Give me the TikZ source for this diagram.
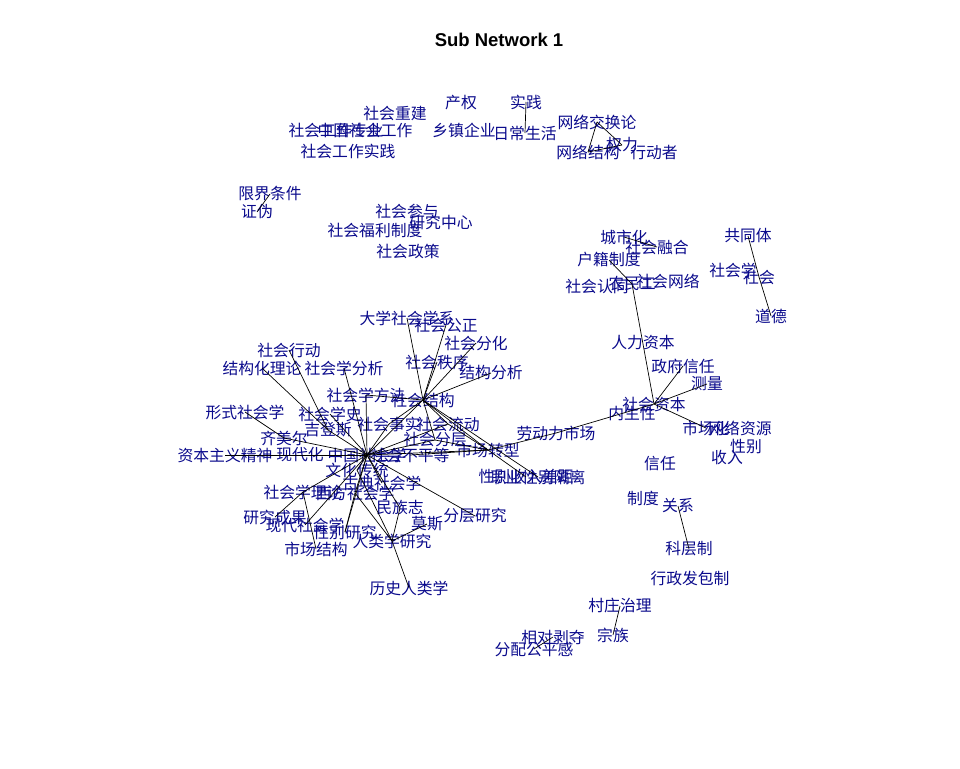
\documentclass[tikz,border=0pt]{standalone}
\usepackage{fontspec}
\newfontfamily\cjk{Noto Sans CJK SC}
\newfontfamily\titlefont{Liberation Sans}
\definecolor{labblue}{RGB}{10,10,140}
\begin{document}
\begin{tikzpicture}[x=1pt,y=-1pt,
  lab/.style={font=\cjk\fontsize{15.8}{16}\selectfont, text=labblue, inner sep=0pt},
  ln/.style={draw=black, line width=0.7pt}]
\fill[white] (0,0) rectangle (960,768);
\useasboundingbox (0,0) rectangle (960,768);
\node[font=\titlefont\bfseries\fontsize{18.5}{20}\selectfont] (title) at (499,40) {Sub Network 1};
% top group
\node[lab] (t1) at (395,113) {社会重建};
\node[lab] (t2) at (461,103) {产权};
\node[lab] (t3) at (526,102) {实践};
\node[lab] (t4) at (336,130) {社会工作专业};
\node[lab] (t5) at (365,130) {中国社会工作};
\node[lab] (t6) at (348,151) {社会工作实践};
\node[lab] (t7) at (464,130) {乡镇企业};
\node[lab] (t8) at (525,133) {日常生活};
\node[lab] (t9) at (597,122) {网络交换论};
\node[lab] (t10) at (622,145) {权力};
\node[lab] (t11) at (588,152) {网络结构};
\node[lab] (t12) at (654,153) {行动者};
\node[lab] (g1) at (270,194) {限界条件};
\node[lab] (g2) at (257,212) {证伪};
\node[lab] (g3) at (407,211) {社会参与};
\node[lab] (g4) at (441,222) {研究中心};
\node[lab] (g5) at (375,230) {社会福利制度};
\node[lab] (g6) at (408,251) {社会政策};
% right group
\node[lab] (r1) at (624,237) {城市化};
\node[lab] (r2) at (657,247) {社会融合};
\node[lab] (r3) at (609,260) {户籍制度};
\node[lab] (r4) at (597,286) {社会认同};
\node[lab] (r5) at (632,284) {农民工};
\node[lab] (r6) at (668,281) {社会网络};
\node[lab] (r7) at (748,236) {共同体};
\node[lab] (r8) at (733,270) {社会学};
\node[lab] (r9) at (759,277) {社会};
\node[lab] (r10) at (771,316) {道德};
\node[lab] (m1) at (643,343) {人力资本};
\node[lab] (m2) at (683,366) {政府信任};
\node[lab] (m3) at (707,384) {测量};
\node[lab] (m4) at (654,404) {社会资本};
\node[lab] (m5) at (632,414) {内生性};
\node[lab] (m6) at (706,428) {市场化};
\node[lab] (m7) at (740,428) {网络资源};
\node[lab] (m8) at (746,447) {性别};
\node[lab] (m9) at (727,457) {收入};
\node[lab] (m10) at (660,464) {信任};
\node[lab] (m11) at (643,498) {制度};
\node[lab] (m12) at (678,506) {关系};
\node[lab] (m13) at (689,549) {科层制};
\node[lab] (m14) at (690,578) {行政发包制};
\node[lab] (m15) at (620,606) {村庄治理};
\node[lab] (m16) at (613,635) {宗族};
\node[lab] (m17) at (553,637) {相对剥夺};
\node[lab] (m18) at (534,649) {分配公平感};
% core
\node[lab] (c0) at (367,455) {中国社会学};
\node[lab] (c1) at (407,318) {大学社会学系};
\node[lab] (c2) at (446,325) {社会公正};
\node[lab] (c3) at (476,343) {社会分化};
\node[lab] (c4) at (437,362) {社会秩序};
\node[lab] (c5) at (491,373) {结构分析};
\node[lab] (c6) at (289,350) {社会行动};
\node[lab] (c7) at (262,368) {结构化理论};
\node[lab] (c8) at (344,368) {社会学分析};
\node[lab] (c9) at (366,395) {社会学方法};
\node[lab] (c10) at (423,400) {社会结构};
\node[lab] (c11) at (245,412) {形式社会学};
\node[lab] (c12) at (330,414) {社会学史};
\node[lab] (c13) at (328,430) {吉登斯};
\node[lab] (c14) at (389,424) {社会事实};
\node[lab] (c15) at (448,424) {社会流动};
\node[lab] (c16) at (284,438) {齐美尔};
\node[lab] (c17) at (435,440) {社会分层};
\node[lab] (c18) at (225,455) {资本主义精神};
\node[lab] (c19) at (300,455) {现代化};
\node[lab] (c20) at (410,455) {社会不平等};
\node[lab] (c21) at (488,450) {市场转型};
\node[lab] (c22) at (556,433) {劳动力市场};
\node[lab] (c23) at (357,470) {文化传统};
\node[lab] (c24) at (382,483) {古典社会学};
\node[lab] (c25) at (303,492) {社会学理论};
\node[lab] (c26) at (355,493) {西方社会学};
\node[lab] (c27) at (275,517) {研究成果};
\node[lab] (c28) at (305,525) {现代社会学};
\node[lab] (c29) at (345,532) {性别研究};
\node[lab] (c30) at (400,508) {民族志};
\node[lab] (c31) at (427,524) {莫斯};
\node[lab] (c32) at (475,516) {分层研究};
\node[lab] (c33) at (392,541) {人类学研究};
\node[lab] (c34) at (316,549) {市场结构};
\node[lab] (c35) at (409,588) {历史人类学};
\node[lab] (c36) at (526,477) {性别收入差距};
\node[lab] (c37) at (538,477) {职业性别隔离};
% edges
\foreach \a/\b in {t3/t8, t9/t11, t9/t10, t11/t10, g1/g2,
  r1/r2, r3/r5, r5/m4, r7/r9, r9/r10,
  m4/m2, m4/m3, m4/m6, m12/m13, m15/m16, m17/m18,
  c21/c22, c22/m4,
  c10/c1, c10/c2, c10/c3, c10/c4, c10/c5, c10/c15, c10/c17, c10/c21, c10/c37, c10/c9, c10/c14, c10/c0,
  c6/c13, c7/c13, c13/c0, c8/c0, c11/c16, c16/c0, c18/c0, c19/c0, c12/c0, c9/c0,
  c14/c0, c15/c0, c17/c0, c0/c21, c20/c21, c15/c21, c17/c21,
  c23/c0, c24/c0, c25/c0, c26/c0, c29/c0, c30/c0, c32/c0, c28/c0, c27/c25,
  c33/c26, c33/c23, c33/c30, c33/c31, c33/c35, c29/c26, c34/c25, c36/c21}
  \draw[ln] (\a.center) -- (\b.center);
\end{tikzpicture}
\end{document}
